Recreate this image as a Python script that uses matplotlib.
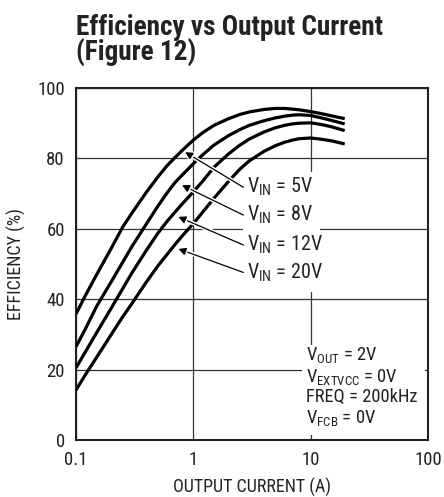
import matplotlib
matplotlib.use("Agg")
import matplotlib.pyplot as plt
import matplotlib.patheffects as pe
from matplotlib.patches import Rectangle

plt.rcParams['font.family'] = ['Roboto Condensed', 'DejaVu Sans']
plt.rcParams['mathtext.fontset'] = 'custom'
plt.rcParams['mathtext.rm'] = 'Roboto Condensed'
plt.rcParams['mathtext.it'] = 'Roboto Condensed'

# output current (A)
current = [0.1, 0.12, 0.15, 0.2, 0.25, 0.3, 0.4, 0.5, 0.6, 0.7, 0.8, 1, 1.2, 1.5,
           2, 2.5, 3, 4, 5, 6, 7, 8, 10, 12, 15, 19.5]

eff_5v = [35.8, 41, 47, 54.5, 60.5, 64.5, 70.5, 74.8, 78, 80.3, 82.2, 85.2, 87.3, 89.4,
          91.3, 92.5, 93.2, 93.9, 94.2, 94.2, 94.0, 93.8, 93.3, 92.8, 92.1, 91.3]
eff_8v = [26.5, 31.5, 38, 45, 50.5, 55, 61.5, 66.5, 70.3, 73.2, 75.2, 78.5, 81, 83.8,
          86.5, 88.2, 89.4, 90.7, 91.5, 92, 92.3, 92.4, 92.2, 91.6, 90.8, 89.8]
eff_12v = [20.5, 25, 30.5, 37.5, 43, 47.5, 54, 58.8, 62.2, 64.8, 67, 70.5, 73.5, 77.5,
           81.3, 83.8, 85.5, 87.5, 88.7, 89.4, 89.8, 90, 90.1, 89.7, 89, 87.9]
eff_20v = [14.2, 18.5, 23.5, 30, 35, 38.8, 45, 49.5, 52.8, 55.6, 57.9, 61.5, 64.7, 68.7,
           73.5, 77, 79.3, 82, 83.6, 84.6, 85.2, 85.6, 85.8, 85.5, 85, 84.1]

series = [eff_5v, eff_8v, eff_12v, eff_20v]
vin_labels = ['5V', '8V', '12V', '20V']
x_ticks = [0.1, 1, 10, 100]
x_ticklabels = ['0.1', '1', '10', '100']
y_ticks = [0, 20, 40, 60, 80, 100]
conditions = [r'$\mathregular{V_{OUT}}$ = 2V', r'$\mathregular{V_{EXTVCC}}$ = 0V',
              'FREQ = 200kHz', r'$\mathregular{V_{FCB}}$ = 0V']

fig = plt.figure(figsize=(4.44, 4.97), dpi=100)
ax = fig.add_axes([76/444, 57/497, 352/444, 352/497])

for eff in series:
    ax.plot(current, eff, color='black', lw=2.3, zorder=4, solid_capstyle='butt')

ax.set_xscale('log')
ax.set_xlim(0.1, 100)
ax.set_ylim(0, 100)
ax.set_xticks(x_ticks)
ax.set_xticklabels(x_ticklabels)
ax.minorticks_off()
ax.set_yticks(y_ticks)
ax.tick_params(length=0, labelsize=13.5, pad=8, colors='#222222')
ax.grid(True, color='#333333', lw=0.9, zorder=0)
ax.set_axisbelow(True)
for s in ax.spines.values():
    s.set_linewidth(1.5)
    s.set_color('#222222')

ax.set_xlabel('OUTPUT CURRENT (A)', fontsize=13, color='#222222', labelpad=6)
ax.set_ylabel('EFFICIENCY (%)', fontsize=13, color='#222222', labelpad=8)

# white areas behind the annotation blocks
ax.add_patch(Rectangle((0.474, 0.42), 0.219, 0.341, transform=ax.transAxes,
                       facecolor='white', edgecolor='none', zorder=2))
ax.add_patch(Rectangle((0.642, 0.014), 0.349, 0.256, transform=ax.transAxes,
                       facecolor='white', edgecolor='none', zorder=2))

tips = [(0.85, 81.8), (0.80, 72.4), (0.745, 63.4), (0.745, 54.3)]
tails = [71.8, 63.9, 55.4, 47.6]
for lab, tip, ty in zip(vin_labels, tips, tails):
    ax.annotate('', xy=tip, xytext=(2.67, ty),
                arrowprops=dict(arrowstyle='-|>', color='black', lw=0.9,
                                mutation_scale=11, shrinkA=0, shrinkB=0,
                                path_effects=[pe.withStroke(linewidth=3, foreground='white')]),
                zorder=5)
    ax.text(2.85, ty, r'$\mathregular{V_{IN}}$ = ' + lab, fontsize=14.5, color='#222222',
            va='center', ha='left', zorder=6)

cond_y = [0.241, 0.179, 0.122, 0.0625]
for txt, yy in zip(conditions, cond_y):
    ax.text(0.653, yy, txt, transform=ax.transAxes, fontsize=13.3, color='#222222',
            va='center', ha='left', zorder=6)

fig.text(76/444, 1 - 35/497, 'Efficiency vs Output Current', fontsize=19.6,
         fontweight='bold', color='#222222', ha='left', va='baseline')
fig.text(76/444, 1 - 61/497, '(Figure 12)', fontsize=19.6,
         fontweight='bold', color='#222222', ha='left', va='baseline')

fig.savefig('out.png', dpi=100)
